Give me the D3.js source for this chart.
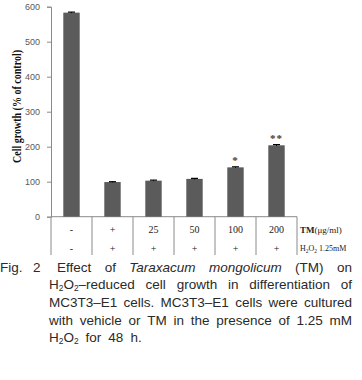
<!DOCTYPE html>
<html><head><meta charset="utf-8">
<script src="https://cdn.jsdelivr.net/npm/d3@7"></script>
<style>body{margin:0;background:#fff;} svg{display:block;}</style>
</head><body>
<svg id="c" width="362" height="380"></svg>
<script>
// ---- data ----
const categories = ["c1","c2","c3","c4","c5","c6"];
const tmLabels = ["-", "+", "25", "50", "100", "200"];
const h2o2Labels = ["-", "+", "+", "+", "+", "+"];
const values = [583, 99, 103, 108, 141, 204];
const errors = [1.5, 1, 1.5, 1.5, 1.5, 2];
const significance = ["", "", "", "", "*", "**"];
const yTicks = [0, 100, 200, 300, 400, 500, 600];
const yLabel = "Cell growth (% of control)";

const captionLines = [
  [[{t:"Effect"}],[{t:"of"}],[{t:"Taraxacum",i:true}],[{t:"mongolicum",i:true}],[{t:"(TM)"}],[{t:"on"}]],
  [[{t:"H"},{t:"2",s:true},{t:"O"},{t:"2",s:true},{t:"\u2013reduced"}],[{t:"cell"}],[{t:"growth"}],[{t:"in"}],[{t:"differentiation"}],[{t:"of"}]],
  [[{t:"MC3T3\u2013E1"}],[{t:"cells."}],[{t:"MC3T3\u2013E1"}],[{t:"cells"}],[{t:"were"}],[{t:"cultured"}]],
  [[{t:"with"}],[{t:"vehicle"}],[{t:"or"}],[{t:"TM"}],[{t:"in"}],[{t:"the"}],[{t:"presence"}],[{t:"of"}],[{t:"1.25"}],[{t:"mM"}]],
  [[{t:"H"},{t:"2",s:true},{t:"O"},{t:"2",s:true}],[{t:"for"}],[{t:"48"}],[{t:"h."}]]
];

// ---- layout ----
const svg = d3.select("#c");
const x = d3.scaleBand().domain(categories).range([51, 297]).paddingInner(0.6).paddingOuter(0.3);
const y = d3.scaleLinear().domain([0, 600]).range([216.7, 6.7]);
const axisColor = "#8a8a8a";

// y axis
const yAxis = d3.axisLeft(y).tickValues(yTicks).tickSize(4).tickPadding(7);
const gy = svg.append("g").attr("transform","translate(51,0)").call(yAxis);
gy.select(".domain").attr("stroke", axisColor);
gy.selectAll(".tick line").attr("stroke", axisColor);
gy.selectAll(".tick text").attr("fill","#595959").style("font-family","'Liberation Sans', Arial, sans-serif").style("font-size","9px");

// baseline
svg.append("line").attr("x1",51).attr("x2",297).attr("y1",y(0)).attr("y2",y(0)).attr("stroke",axisColor);

// table dividers
const dividers = categories.map(c => x(c) - x.step()*x.paddingInner()/2).concat([297]);
svg.selectAll(".div").data(dividers).enter().append("line")
  .attr("x1",d=>d).attr("x2",d=>d).attr("y1",y(0)).attr("y2",255).attr("stroke",axisColor);

// bars
svg.selectAll(".bar").data(values).enter().append("rect")
  .attr("x",(d,i)=>x(categories[i])).attr("width",x.bandwidth())
  .attr("y",d=>y(d)).attr("height",d=>y(0)-y(d)).attr("fill","#5b5b5b");

// error bars
const eb = svg.selectAll(".eb").data(values).enter().append("g");
eb.append("line").attr("x1",(d,i)=>x(categories[i])+x.bandwidth()/2).attr("x2",(d,i)=>x(categories[i])+x.bandwidth()/2)
  .attr("y1",(d,i)=>y(d+errors[i])).attr("y2",(d,i)=>y(d-errors[i])).attr("stroke","#000").attr("stroke-width",1);
eb.append("line").attr("x1",(d,i)=>x(categories[i])+x.bandwidth()/2-3.5).attr("x2",(d,i)=>x(categories[i])+x.bandwidth()/2+3.5)
  .attr("y1",(d,i)=>y(d+errors[i])).attr("y2",(d,i)=>y(d+errors[i])).attr("stroke","#000").attr("stroke-width",1.2);

// significance
svg.selectAll(".sig").data(significance).enter().append("text")
  .attr("x",(d,i)=>x(categories[i])+x.bandwidth()/2).attr("y",(d,i)=>y(values[i]+errors[i])-3)
  .attr("text-anchor","middle").attr("fill","#404040")
  .style("font-family","'Liberation Serif', serif").style("font-size","11px").style("font-weight","bold")
  .style("letter-spacing","1px")
  .text(d=>d);

// table rows
const serif = "'Liberation Serif', 'Times New Roman', serif";
svg.selectAll(".r1").data(tmLabels).enter().append("text")
  .attr("x",(d,i)=>x(categories[i])+x.bandwidth()/2).attr("y",232.5).attr("text-anchor","middle")
  .attr("fill","#222").style("font-family",serif).style("font-size","10px").text(d=>d);
svg.selectAll(".r2").data(h2o2Labels).enter().append("text")
  .attr("x",(d,i)=>x(categories[i])+x.bandwidth()/2).attr("y",251.5).attr("text-anchor","middle")
  .attr("fill","#222").style("font-family",serif).style("font-size","10px").text(d=>d);

// row labels
const rl1 = svg.append("text").attr("x",300).attr("y",232.5).attr("fill","#222").style("font-family",serif).style("font-size","9px");
rl1.append("tspan").style("font-weight","bold").text("TM");
rl1.append("tspan").text("(\u03bcg/ml)");
const rl2 = svg.append("text").attr("x",300).attr("y",251).attr("fill","#222").style("font-family",serif).style("font-size","8px");
rl2.append("tspan").text("H");
rl2.append("tspan").attr("dy",2).style("font-size","5.5px").text("2");
rl2.append("tspan").attr("dy",-2).text("O");
rl2.append("tspan").attr("dy",2).style("font-size","5.5px").text("2");
rl2.append("tspan").attr("dy",-2).text(" 1.25mM");

// y label
svg.append("text").attr("transform","translate(21,106.5) rotate(-90)").attr("text-anchor","middle")
  .attr("fill","#111").style("font-family",serif).style("font-size","13px").style("font-weight","bold")
  .attr("textLength",113).attr("lengthAdjust","spacingAndGlyphs")
  .text(yLabel);

// caption
const capFont = "'Liberation Sans', Arial, sans-serif";
const capSize = 13.5;
const capColor = "#2a2a2a";
function makeWord(g, segs){
  const t = g.append("text").attr("fill",capColor).style("font-family",capFont).style("font-size",capSize+"px");
  let prevSub=false;
  segs.forEach(s=>{
    const ts = t.append("tspan").text(s.t);
    if(s.i) ts.style("font-style","italic");
    if(s.s){ ts.style("font-size",(capSize*0.62)+"px").attr("dy", prevSub?0:2); prevSub=true; }
    else { ts.attr("dy", prevSub?-2:0); prevSub=false; }
  });
  return t;
}
const lineY = [271.5, 289, 306.5, 324.5, 342];
const capG = svg.append("g");
capG.append("text").attr("x",0).attr("y",lineY[0]).attr("fill",capColor).style("font-family",capFont).style("font-size",capSize+"px").text("Fig.");
capG.append("text").attr("x",33).attr("y",lineY[0]).attr("fill",capColor).style("font-family",capFont).style("font-size",capSize+"px").text("2");
captionLines.forEach((words, li)=>{
  const left = li===0 ? 57 : 49, right = 352;
  const nodes = words.map(w=>makeWord(capG,w).attr("y",lineY[li]));
  const widths = nodes.map(n=>n.node().getComputedTextLength());
  const total = d3.sum(widths);
  const justify = li < captionLines.length-1;
  const gap = justify ? (right-left-total)/(words.length-1) : 7;
  let cx = left;
  nodes.forEach((n,i)=>{ n.attr("x",cx); cx += widths[i]+gap; });
});
</script>
</body></html>
